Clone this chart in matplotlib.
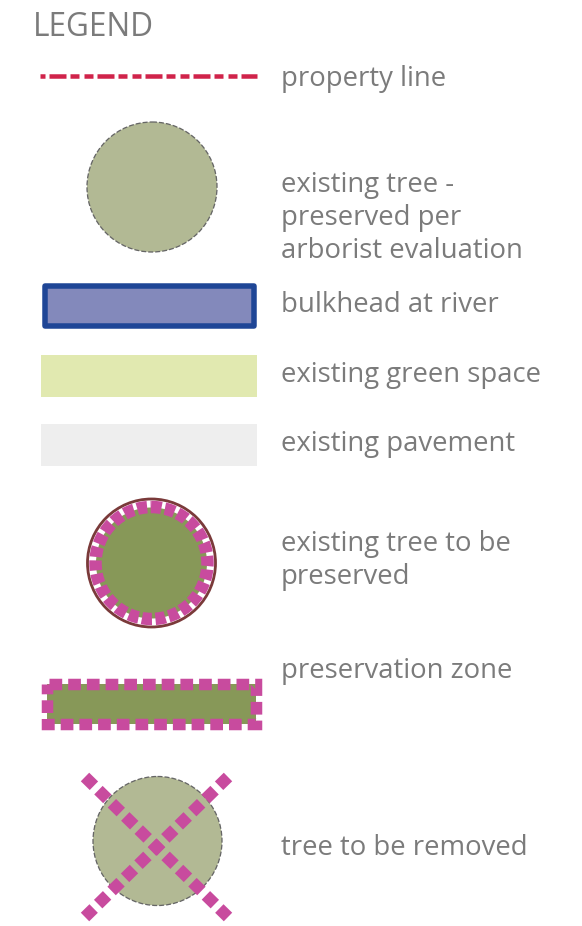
import matplotlib
matplotlib.use("Agg")
import matplotlib.pyplot as plt
from matplotlib.patches import Circle, Rectangle

plt.rcParams['lines.scale_dashes'] = False

W, H = 582, 926
PX = 0.72  # points per pixel at dpi 100

title = "LEGEND"
labels = [
    ["property line"],
    ["existing tree -", "preserved per", "arborist evaluation"],
    ["bulkhead at river"],
    ["existing green space"],
    ["existing pavement"],
    ["existing tree to be", "preserved"],
    ["preservation zone"],
    ["tree to be removed"],
]
label_baselines = [86, 192, 312, 382, 451, 551, 678, 855]
line_gap = 33

TEXT = "#7b7b7b"
FONT = ["Open Sans", "DejaVu Sans"]

fig = plt.figure(figsize=(W / 100, H / 100), dpi=100)
ax = fig.add_axes([0, 0, 1, 1])
ax.set_xlim(0, W)
ax.set_ylim(H, 0)
ax.axis("off")

ax.text(33, 36, title, fontsize=22.7, color=TEXT, family=FONT, va="baseline", ha="left")
for lines, yb in zip(labels, label_baselines):
    for i, s in enumerate(lines):
        ax.text(281, yb + i * line_gap, s, fontsize=19.8, color=TEXT, family=FONT,
                va="baseline", ha="left")

def px(v):
    return v * PX

# 1. property line
ax.plot([40, 257], [76, 76], color="#d0234a", lw=px(4.5), dash_capstyle="butt",
        linestyle=(px(39), (px(17), px(4), px(9), px(5), px(9), px(4))))

# 2. existing tree preserved per arborist
ax.add_patch(Circle((152, 187), 65, facecolor="#b2b994", edgecolor="#666666",
                    lw=px(1.3), linestyle=(0, (px(5), px(2)))))

# 3. bulkhead
ax.add_patch(Rectangle((44.5, 286), 209, 39.5, facecolor="#8389bb", edgecolor="#1f4696",
                       lw=px(5.5), joinstyle="round"))

# 4. green space
ax.add_patch(Rectangle((41, 355), 216, 42, facecolor="#e1e9b0", edgecolor="none"))

# 5. pavement
ax.add_patch(Rectangle((41, 424), 216, 42, facecolor="#eeeeee", edgecolor="none"))

# 6. existing tree to be preserved
ax.add_patch(Circle((151.5, 563), 64, facecolor="white", edgecolor="#7a3a3a", lw=px(2.8)))
ax.add_patch(Circle((151.5, 563), 55.5, facecolor="#879858", edgecolor="none"))
ax.add_patch(Circle((151.5, 563), 56, facecolor="none", edgecolor="#c84b9e",
                    lw=px(12.5), linestyle=(0, (px(10), px(3.5))), capstyle="butt"))

# 7. preservation zone
ax.add_patch(Rectangle((47, 684), 209, 39.5, facecolor="#879858", edgecolor="none"))
ax.add_patch(Rectangle((47, 684), 209, 39.5, facecolor="none", edgecolor="#c84b9e",
                       lw=px(11.5), linestyle=(px(-2), (px(12.7), px(6))), capstyle="butt"))

# 8. tree to be removed
ax.add_patch(Circle((157.5, 841), 64.5, facecolor="#b2b994", edgecolor="#666666",
                    lw=px(1.3), linestyle=(0, (px(5), px(2)))))
xdash = (0, (px(12.5), px(6.3)))
ax.plot([85, 228], [777, 917], color="#c84b9e", lw=px(12), linestyle=xdash,
        dash_capstyle="butt")
ax.plot([228, 85], [777, 917], color="#c84b9e", lw=px(12), linestyle=xdash,
        dash_capstyle="butt")

fig.savefig("out.png", dpi=100)
